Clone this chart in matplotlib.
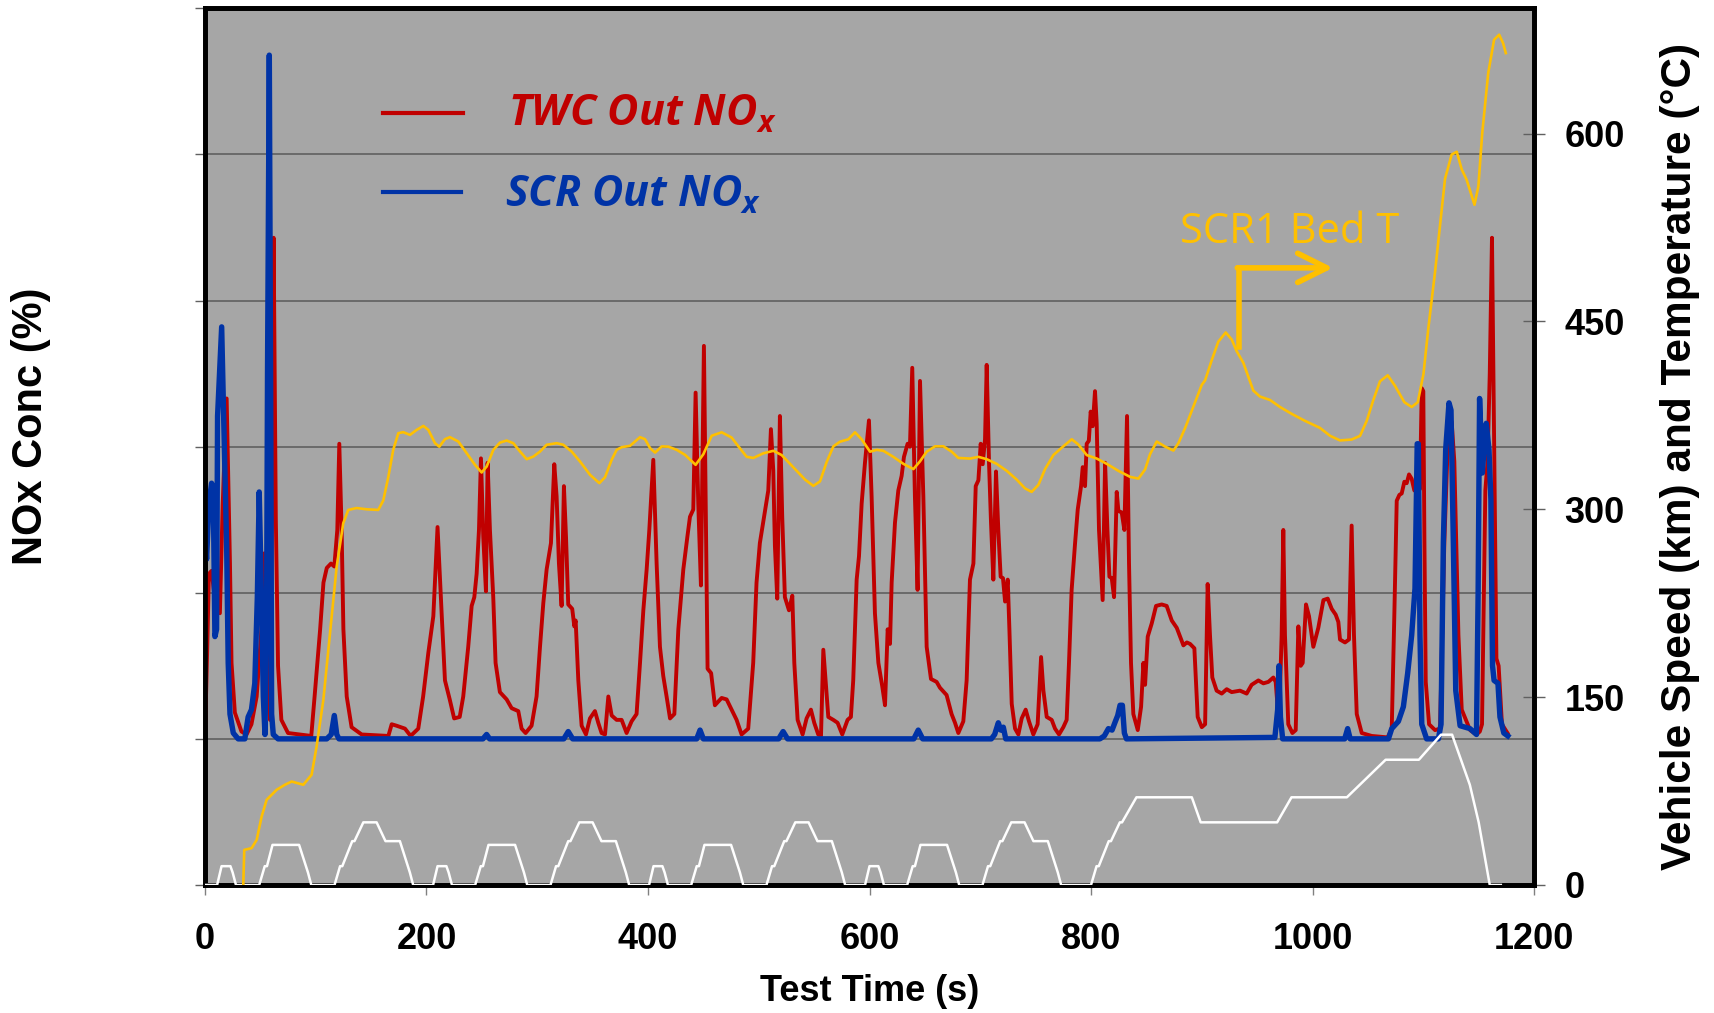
import matplotlib.pyplot as plt

plt.rcParams['font.family'] = ['Liberation Sans', 'DejaVu Sans']
plt.rcParams['mathtext.fontset'] = 'custom'
plt.rcParams['mathtext.it'] = 'Open Sans:italic:bold'
plt.rcParams['mathtext.rm'] = 'Open Sans:italic:bold'

# TWC out NOx (left axis, arbitrary units: gridline = 1 unit)
twc_t = [0, 2, 3.6, 6, 9, 13.5, 16, 19.6, 22.6, 24, 27, 33, 37.6, 42, 46.7, 51, 53.6, 56, 58.7, 60.5,
         62, 64, 66, 69, 75, 96, 99, 104, 107, 110, 113.8, 116.8, 119.5, 121.3, 123.4, 125, 128, 132.4,
         141.5, 165.6, 168.6, 173, 180.6, 185.7, 192.6, 197, 201.7, 206.2, 210, 213.7, 216.7, 221, 225,
         230, 233.2, 237.7, 240.8, 243.2, 245.3, 247.4, 249.2, 251.3, 253.7, 255.2, 257.3, 260.3, 262.4,
         266.3, 272.4, 276.9, 282.9, 285.9, 289.5, 294.9, 299.4, 302.5, 305.5, 308.5, 312.4, 315.4, 317.5,
         319.6, 322, 324.1, 326, 328, 331.6, 333.5, 334.7, 337.1, 340.1, 344, 347.6, 352.1, 355.1, 358.1,
         361.2, 364.2, 367.2, 371.7, 376.2, 380.7, 385.2, 389.7, 392.8, 395.8, 398.8, 401.2, 404.8, 407.8,
         410.8, 413.8, 416.8, 419.9, 423.8, 427.4, 431.9, 435.5, 437.9, 440.9, 443, 445.4, 447.8, 450.5,
         453.8, 457, 460.4, 466.5, 471, 475.5, 480, 484.5, 490.5, 495, 498, 501, 505, 508.6, 511, 513.1,
         514.6, 516.7, 519.1, 521.2, 523.6, 527.3, 530.3, 532.1, 535.1, 539.6, 543.2, 547.1, 550.1, 553.7,
         556.2, 558.3, 560.4, 562.8, 567.3, 571.2, 575.4, 580.2, 583.2, 585.3, 588.4, 590.5, 592.9, 595.9,
         599.5, 601.9, 604.9, 608, 611.5, 614, 616.4, 618.5, 620, 623, 626, 629, 631.1, 634.4, 636.5,
         638.6, 641, 643.4, 645.6, 648.6, 651.6, 655.5, 660.6, 663.6, 669.6, 674.1, 677.2, 680.2, 684.7,
         687.7, 690.7, 693.8, 695.9, 698.3, 700.4, 702.2, 704.3, 705.8, 707.9, 709.7, 711.8, 714.2, 716.3,
         718.4, 720.5, 722.4, 724.8, 726.3, 728.4, 731.4, 734.4, 737.4, 741, 744, 747.9, 751.8, 754.9,
         757, 760, 764.5, 767.5, 771.1, 775, 778, 780.1, 782.5, 785.6, 788, 791, 792.5, 794.6, 796.1, 798,
         799.7, 801.5, 803.6, 805.1, 807.2, 810.5, 812.7, 814.8, 816.6, 818.7, 820.8, 823.2, 824.7, 827.7,
         830.1, 832.5, 834.3, 836.1, 838.2, 842.2, 845.2, 847.3, 848.8, 851.2, 854.8, 858.7, 863.8, 868.3,
         872.9, 877.4, 883.4, 886.5, 889.4, 893.3, 896.3, 900, 903, 905.3, 907.4, 909.5, 913.4, 918, 922.5,
         927, 934.5, 940.5, 945, 951.1, 955.6, 960.1, 964.6, 966.7, 969.7, 972.1, 973.6, 975.1, 978.1,
         981.8, 984.8, 987.2, 989.3, 991.1, 994.1, 996.8, 1000.7, 1005.2, 1009.8, 1013.7, 1017.3, 1020.9,
         1023.3, 1024.8, 1029.3, 1032.9, 1035.3, 1037.4, 1039.9, 1044.4, 1053.4, 1067.8, 1071.5, 1073.9,
         1076, 1078.4, 1080.5, 1082.9, 1085, 1087.1, 1089.5, 1091.9, 1094, 1097, 1098.6, 1100, 1101,
         1102.2, 1105.2, 1110.6, 1115.1, 1119, 1122, 1125.6, 1128, 1131.7, 1134.7, 1142.2, 1148, 1151,
         1153, 1156, 1158, 1160, 1162, 1164, 1166, 1168, 1171, 1176]
twc_v = [1.0, 1.6, 2.13, 2.15, 1.95, 1.86, 2.6, 3.33, 2.2, 1.52, 1.18, 1.05, 1.03, 1.1, 1.29, 1.75, 2.27, 1.6, 1.13, 2.5,
         4.43, 2.5, 1.5, 1.13, 1.04, 1.02, 1.29, 1.75, 2.07, 2.17, 2.2, 2.18, 2.43, 3.02, 2.43, 1.75, 1.29, 1.08,
         1.03, 1.02, 1.1, 1.09, 1.07, 1.02, 1.07, 1.29, 1.59, 1.84, 2.45, 1.86, 1.40, 1.27, 1.14,
         1.15, 1.29, 1.63, 1.91, 1.97, 2.13, 2.43, 2.92, 2.38, 2.01, 2.89, 2.43, 1.97, 1.52,
         1.32, 1.27, 1.21, 1.19, 1.07, 1.04, 1.09, 1.29, 1.63, 1.93, 2.16, 2.34, 2.88, 2.66,
         2.2, 1.91, 2.73, 2.38, 1.92, 1.89, 1.77, 1.81, 1.40, 1.09, 1.03, 1.14, 1.19, 1.11, 1.04,
         1.03, 1.29, 1.16, 1.13, 1.13, 1.04, 1.12, 1.17, 1.52, 1.88, 2.16, 2.43, 2.91, 2.2,
         1.63, 1.43, 1.29, 1.14, 1.17, 1.75, 2.16, 2.38, 2.52, 2.57, 3.37, 2.61, 2.05, 3.69,
         1.48, 1.45, 1.23, 1.28, 1.27, 1.20, 1.13, 1.03, 1.07, 1.52, 2.07, 2.34, 2.53, 2.70, 3.12, 2.84,
         2.32, 1.96, 3.21, 2.52, 1.97, 1.88, 1.98, 1.52, 1.13, 1.03, 1.14, 1.20, 1.11, 1.03,
         1.02, 1.61, 1.40, 1.15, 1.13, 1.11, 1.03, 1.13, 1.15, 1.40, 2.09, 2.25, 2.61, 2.89,
         3.18, 2.66, 1.86, 1.52, 1.36, 1.23, 1.75, 1.65, 2.07, 2.48, 2.70, 2.80, 2.93, 3.02, 3.00,
         3.54, 2.66, 2.02, 3.45, 2.66, 1.63, 1.41, 1.39, 1.35, 1.30, 1.17, 1.11, 1.04, 1.12,
         1.40, 2.09, 2.20, 2.73, 2.77, 3.02, 2.88, 3.05, 3.56, 2.89, 2.48, 2.09, 2.83, 2.43,
         2.11, 2.10, 1.94, 2.09, 1.75, 1.24, 1.07, 1.03, 1.14, 1.20, 1.12, 1.03, 1.10, 1.56,
         1.33, 1.15, 1.13, 1.07, 1.03, 1.08, 1.13, 1.52, 2.02, 2.34, 2.57, 2.73, 2.86, 2.73, 3.02, 3.04,
         3.24, 3.14, 3.38, 3.16, 2.43, 1.95, 2.89, 2.43, 2.11, 2.10, 1.97, 2.69, 2.56, 2.55,
         2.43, 3.21, 2.20, 1.52, 1.17, 1.06, 1.22, 1.52, 1.37, 1.70, 1.79, 1.91, 1.92, 1.91,
         1.81, 1.76, 1.64, 1.66, 1.65, 1.62, 1.15, 1.08, 1.10, 2.06, 1.71, 1.42, 1.33, 1.31, 1.34,
         1.32, 1.33, 1.31, 1.37, 1.40, 1.38, 1.39, 1.42, 1.39, 1.10, 1.71, 2.43, 1.71, 1.10,
         1.04, 1.06, 1.77, 1.50, 1.52, 1.92, 1.84, 1.63, 1.76, 1.95, 1.96, 1.89, 1.85,
         1.80, 1.68, 1.66, 1.68, 2.46, 1.71, 1.17, 1.04, 1.02, 1.01, 1.07, 1.87,
         2.63, 2.67, 2.68, 2.76, 2.75, 2.81, 2.78, 2.70, 2.78, 2.71, 3.40, 3.38, 2.35,
         1.39, 1.10, 1.06, 1.07, 2.35, 3.0, 3.17, 2.9, 1.71, 1.20, 1.06, 1.03, 1.05,
         1.10, 2.70, 2.90, 3.50, 4.43, 3.00, 1.55, 1.50, 1.10, 1.04]

# SCR out NOx (left axis)
scr_t = [0, 1.5, 3.6, 6, 7.5, 9, 10.5, 11.4, 15.1, 17.5, 19.6, 21, 22.6, 25.6, 30, 36, 39, 42, 45, 47.3, 49,
         51, 52.7, 54.2, 55.7, 56.5, 58.1, 59.5, 60.2, 61.7, 66, 110, 114, 116.8, 119, 121, 251, 254.3, 257,
         324, 328, 332, 444, 447, 450, 518, 522, 526, 640, 644, 648, 710, 713, 716.3, 718.5, 720.8, 723,
         808, 812, 815.7, 819, 822, 824.1, 826.2, 828.3, 830.1, 832, 966, 968.5, 969.7, 971, 973,
         1029, 1031.7, 1034, 1068.5, 1071.5, 1077.5, 1082, 1085.9, 1089.5, 1092.5, 1094.5, 1095.5, 1097,
         1098.6, 1103, 1113.6, 1116, 1118.1, 1120.2, 1123.2, 1125, 1127.1, 1129.3, 1133.2, 1142.2, 1148,
         1149.5, 1150.8, 1153.3, 1155, 1156.8, 1159.3, 1161, 1162.5, 1163.9, 1167.4, 1169.2, 1172.7, 1176.3]
scr_v = [2.40, 2.23, 2.61, 2.75, 2.70, 1.70, 1.75, 3.21, 3.82, 3.0, 2.32, 1.52, 1.17, 1.04, 1.0, 1.0, 1.15, 1.20, 1.38, 1.97, 2.69,
         1.97, 1.29, 1.03, 1.9, 3.5, 5.68, 3.0, 1.17, 1.03, 1.0, 1.0, 1.03, 1.16, 1.03, 1.0, 1.0, 1.03, 1.0,
         1.0, 1.05, 1.0, 1.0, 1.06, 1.0, 1.0, 1.05, 1.0, 1.0, 1.06, 1.0, 1.0, 1.03, 1.11, 1.06, 1.08, 1.0,
         1.0, 1.02, 1.07, 1.06, 1.12, 1.16, 1.23, 1.23, 1.04, 1.0, 1.01, 1.2, 1.50, 1.15, 1.0,
         1.0, 1.07, 1.0, 1.0, 1.07, 1.12, 1.22, 1.45, 1.71, 2.03, 3.02, 3.02, 1.71,
         1.1, 1.0, 1.0, 1.10, 2.35, 2.98, 3.30, 3.25, 2.35, 1.33, 1.09, 1.07, 1.03,
         2.0, 3.33, 2.82, 3.0, 3.16, 2.98, 2.64, 1.5, 1.40, 1.38, 1.15, 1.04, 1.02]

# SCR1 bed temperature (right axis, deg C)
temp_t = [34.6, 35.5, 42.1, 46.7, 51.2, 55.7, 64.7, 72.2, 78.3, 88.8, 96.3, 100.8, 106.9, 112.9, 118.9, 124.9,
          129.4, 136.9, 146, 156.5, 161, 165.6, 170, 174.6, 179.1, 185.1, 191.1, 197.2, 201.7, 207.7, 211.6,
          216.7, 221.2, 228.8, 236.3, 243.8, 249.8, 254.4, 260.4, 266.4, 272.4, 278.4, 284.5, 290.5, 296.5,
          302.5, 308.5, 317.6, 323.6, 331.1, 338.6, 347.7, 356.1, 361.2, 367.2, 371.7, 376.3, 383.8, 388.3,
          392.8, 397.3, 401.9, 406.4, 412.4, 418.4, 425.9, 433.4, 443, 450, 457.5, 466.5, 475.5, 481.6,
          489.1, 495.1, 504.1, 513.2, 520.7, 531.2, 541.8, 549.3, 555.3, 561.3, 567.4, 573.4, 580.9, 586.9,
          592.9, 600.5, 606.5, 612.5, 621.5, 630.6, 639.6, 645.6, 651.6, 659.2, 666.7, 674.2, 680.2, 690.8,
          698.3, 705.8, 714.8, 723.9, 732.9, 740.4, 746.4, 752.5, 758.5, 766, 775, 782.6, 788.6, 796.1,
          805.2, 814.2, 824.7, 835.3, 842.8, 848.8, 853.3, 859.3, 866.8, 874.4, 878.9, 884.9, 892.4, 900,
          903, 908.9, 914.9, 921.6, 927, 931.5, 937.5, 942, 946.5, 952.6, 961.6, 970.6, 981.2, 993.2,
          1006.7, 1015.8, 1024.8, 1035.3, 1042.9, 1048.9, 1054.9, 1060.9, 1067.9, 1074.5, 1082.9, 1089.5,
          1095, 1100.1, 1104.6, 1110.6, 1115.1, 1119.6, 1125.6, 1130.2, 1134.7, 1139.1, 1146.2, 1149.7,
          1153.2, 1158.6, 1163.9, 1168.5, 1172, 1174.5]
temp_v = [0, 28, 29.4, 36, 54.7, 68, 76, 80, 82.6, 80, 88, 110.5, 147.8, 201, 254, 289,
          299.5, 301, 300, 299.5, 307, 326, 347.5, 360.8, 361.6, 359.4, 363.4, 366.6, 363.4, 352.8, 350,
          356, 357.6, 354.1, 344.8, 335.5, 329.4, 334.2, 347.5, 353.3, 354.9, 352.8, 346.1, 340, 342.1,
          346.1, 351.5, 352.8, 351.5, 346.1, 338.2, 327.5, 320.9, 325.6, 339.5, 347.5, 349.6, 350.7, 354.1,
          357.6, 356, 348.8, 345.3, 350.2, 350, 347.5, 343.5, 335.5, 344, 358.7, 361.5, 357.3, 350.3,
          341.9, 341, 344.7, 346.7, 343.3, 333.5, 323.7, 318.7, 322.3, 337.7, 350.3, 354, 355.9, 361.5,
          355.9, 346, 347.5, 346.7, 341.9, 336.3, 332.1, 338.3, 346, 350.3, 350.3, 346, 341, 340.5,
          341.9, 340, 336.3, 330.7, 323.7, 316.7, 313.9, 319.5, 332.1, 343.3, 350.3, 355.9, 351.7, 343.3,
          340.5, 336.3, 330.7, 325.9, 324.5, 331.8, 344, 354.1, 350.1, 346.9, 352.8, 364.8, 382.1, 399.4,
          403, 418.9, 433.8, 441.2, 435.6, 426.3, 417, 405.9, 394.8, 390, 387.3, 381.7, 376.2, 370.6,
          365, 358.7, 355, 355.7, 358.7, 370.6, 387.3, 402.2, 407, 398.5, 385.5, 381.7,
          385.5, 407.8, 445, 489.6, 526.7, 563.9, 583.3, 585.5, 571.4, 563.2, 543.2, 557.8,
          600.4, 648.3, 675, 679, 672.3, 664.3]

# Vehicle speed (right axis, km/h), four urban cycles then the extra-urban part
speed_t = [0, 11, 15, 23, 25, 28, 49, 54, 56, 61, 85, 93, 96, 117, 122, 124, 133, 135, 143, 155, 163, 176, 185, 188,
           195, 206, 210, 218, 220, 223, 244, 249, 251, 256, 280, 288, 291, 312, 317, 319, 328, 330, 338, 350, 358, 371, 380, 383,
           390, 401, 405, 413, 415, 418, 439, 444, 446, 451, 475, 483, 486, 507, 512, 514, 523, 525, 533, 545, 553, 566, 575, 578,
           585, 596, 600, 608, 610, 613, 634, 639, 641, 646, 670, 678, 681, 702, 707, 709, 718, 720, 728, 740, 748, 761, 770, 773,
           780, 800, 805, 807, 816, 818, 826, 828, 841, 891, 899, 968, 981, 1031, 1066, 1096, 1116, 1126, 1142, 1150, 1160, 1170]
speed_v = [0, 0, 15, 15, 10, 0, 0, 15, 15, 32, 32, 10, 0, 0, 15, 15, 35, 35, 50, 50, 35, 35, 10, 0,
           0, 0, 15, 15, 10, 0, 0, 15, 15, 32, 32, 10, 0, 0, 15, 15, 35, 35, 50, 50, 35, 35, 10, 0,
           0, 0, 15, 15, 10, 0, 0, 15, 15, 32, 32, 10, 0, 0, 15, 15, 35, 35, 50, 50, 35, 35, 10, 0,
           0, 0, 15, 15, 10, 0, 0, 15, 15, 32, 32, 10, 0, 0, 15, 15, 35, 35, 50, 50, 35, 35, 10, 0,
           0, 0, 15, 15, 35, 35, 50, 50, 70, 70, 50, 50, 70, 70, 100, 100, 120, 120, 80, 50, 0, 0]

x_ticks = [0, 200, 400, 600, 800, 1000, 1200]
right_ticks = [0, 150, 300, 450, 600]

RED = '#C00000'
BLUE = '#0033A6'
GOLD = '#FFC000'

fig = plt.figure(figsize=(17.15, 10.13), dpi=100)
ax = fig.add_axes([0.1195, 0.1264, 0.7750, 0.8653])
ax.set_facecolor('#A6A6A6')

ax.plot(twc_t, twc_v, color=RED, lw=2.8, zorder=3, solid_joinstyle='round')
ax.plot(scr_t, scr_v, color=BLUE, lw=3.9, zorder=4, solid_joinstyle='round')

ax.set_xlim(0, 1200)
ax.set_ylim(0, 6)
ax.set_yticks(range(7))
ax.set_xticks(x_ticks)
ax.grid(axis='y', color='#5a5a5a', lw=1.1)
ax.set_axisbelow(True)
ax.tick_params(axis='y', labelleft=False, direction='out', length=7, width=1, color='#606060')
ax.tick_params(axis='x', direction='out', length=7, width=1, color='#808080', pad=20, labelsize=26)
for lab in ax.get_xticklabels():
    lab.set_fontweight('bold')
for s in ax.spines.values():
    s.set_linewidth(3.4)
    s.set_color('black')

ax.set_xlabel('Test Time (s)', fontsize=26, fontweight='bold', va='center')
ax.xaxis.set_label_coords(0.5, -0.121)
ax.set_ylabel('NOx Conc (%)', fontsize=30, fontweight='bold', va='center', ha='center')
ax.yaxis.set_label_coords(-0.131, 0.523)

# legend drawn by hand like the original
ax.plot([0.134, 0.194], [0.881, 0.881], transform=ax.transAxes, color=RED, lw=3)
ax.plot([0.134, 0.193], [0.791, 0.791], transform=ax.transAxes, color=BLUE, lw=3)
ax.text(0.228, 0.879, r'TWC Out NO$_x$', transform=ax.transAxes, color=RED, fontsize=31,
        family='Open Sans', style='italic', fontweight='bold', va='center')
ax.text(0.226, 0.787, r'SCR Out NO$_x$', transform=ax.transAxes, color=BLUE, fontsize=31,
        family='Open Sans', style='italic', fontweight='bold', va='center')

ax2 = ax.twinx()
ax2.plot(speed_t, speed_v, color='white', lw=1.8, zorder=3)
ax2.plot(temp_t, temp_v, color=GOLD, lw=1.9, zorder=4, solid_joinstyle='round')
ax2.set_ylim(0, 700)
ax2.set_yticks(right_ticks)
ax2.tick_params(axis='y', direction='inout', length=16, width=1, color='#606060', pad=14, labelsize=26)
for lab in ax2.get_yticklabels():
    lab.set_fontweight('bold')
for s in ax2.spines.values():
    s.set_linewidth(3.4)
    s.set_color('black')
ax2.set_ylabel('Vehicle Speed (km) and Temperature (°C)', fontsize=30.5, fontweight='bold',
               rotation=90, va='center', ha='center')
ax2.yaxis.set_label_coords(1.110, 0.489)

# SCR1 Bed T callout with bent arrow
ax2.text(880, 513, 'SCR1 Bed T', color=GOLD, fontsize=30, family='Open Sans', va='baseline', ha='left')
ax2.plot([933.6, 933.6], [430, 492.8], color=GOLD, lw=4, solid_capstyle='projecting')
ax2.annotate('', xy=(1018.5, 492.8), xytext=(932, 492.8),
             arrowprops=dict(arrowstyle='->,head_length=0.7,head_width=0.35', color=GOLD, lw=4,
                             mutation_scale=30, shrinkA=0, shrinkB=0))

fig.savefig('out.png', dpi=100)
